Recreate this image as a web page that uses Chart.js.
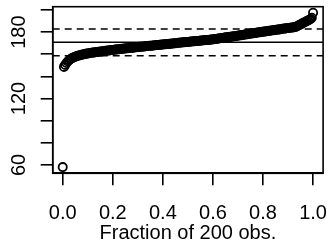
<!DOCTYPE html>
<html>
<head>
<meta charset="utf-8">
<script src="https://cdn.jsdelivr.net/npm/chart.js@4"></script>
<style>
  html, body { margin: 0; padding: 0; background: #fff; }
  #wrap { width: 329px; height: 242px; }
</style>
</head>
<body>
<div id="wrap"><canvas id="grafico" width="329" height="242"></canvas></div>
<script>
// valores ordenados (200 obs.)
const valores = [
  58.0, 148.6, 150.4, 152.1, 153.4, 154.6, 155.5, 156.2, 156.8, 157.3,
  157.8, 158.2, 158.6, 158.9, 159.2, 159.5, 159.8, 160.1, 160.3, 160.6,
  160.8, 161.0, 161.1, 161.3, 161.5, 161.6, 161.8, 162.0, 162.1, 162.3,
  162.5, 162.6, 162.8, 162.9, 163.1, 163.2, 163.4, 163.5, 163.7, 163.8,
  163.9, 164.1, 164.2, 164.3, 164.5, 164.6, 164.8, 164.9, 165.0, 165.2,
  165.3, 165.4, 165.5, 165.6, 165.8, 165.9, 166.0, 166.2, 166.3, 166.4,
  166.5, 166.7, 166.8, 166.9, 167.0, 167.1, 167.3, 167.4, 167.5, 167.6,
  167.7, 167.8, 168.0, 168.1, 168.2, 168.3, 168.4, 168.5, 168.7, 168.8,
  168.9, 169.0, 169.1, 169.2, 169.3, 169.4, 169.6, 169.7, 169.8, 169.9,
  170.0, 170.2, 170.4, 170.5, 170.6, 170.7, 170.8, 170.9, 171.0, 171.1,
  171.2, 171.4, 171.5, 171.6, 171.7, 171.8, 171.9, 172.0, 172.1, 172.2,
  172.4, 172.5, 172.6, 172.7, 172.8, 172.9, 173.0, 173.1, 173.3, 173.4,
  173.6, 173.8, 173.9, 174.1, 174.3, 174.4, 174.6, 174.8, 174.9, 175.1,
  175.3, 175.4, 175.6, 175.8, 175.9, 176.1, 176.3, 176.4, 176.6, 176.8,
  177.0, 177.1, 177.3, 177.5, 177.7, 177.8, 178.0, 178.2, 178.4, 178.5,
  178.7, 178.9, 179.1, 179.2, 179.4, 179.6, 179.8, 179.9, 180.1, 180.3,
  180.5, 180.6, 180.8, 181.0, 181.2, 181.3, 181.5, 181.7, 181.8, 182.0,
  182.2, 182.3, 182.5, 182.7, 182.8, 183.0, 183.2, 183.3, 183.5, 183.7,
  183.8, 184.0, 184.2, 184.3, 184.5, 184.7, 185.2, 185.8, 186.4, 187.0,
  187.6, 188.2, 188.8, 189.4, 190.0, 190.6, 191.2, 191.9, 193.0, 197.6
];

// linhas horizontais: média e média +/- desvio
const linhaMedia = 170.8;
const linhasDesvio = [158.6, 182.8];

// marcas dos eixos
const ticksX = [0, 0.2, 0.4, 0.6, 0.8, 1.0];
const ticksY = [60, 80, 100, 120, 140, 160, 180, 200];
const rotulosY = [60, 120, 180];

const limX = [-0.04, 1.04];
const limY = [52.4, 203.0];

const fonte = '"Liberation Sans", Arial, sans-serif';

// converte em pontos x = fração das observações
const n = valores.length;
const pontos = valores.map((v, i) => ({ x: i / (n - 1), y: v }));

function linhaH(y) {
  return [{ x: limX[0], y: y }, { x: limX[1], y: y }];
}

// desenha os rótulos do eixo y girados (como no R) e a moldura
const pluginEixoY = {
  id: 'eixoY',
  afterDraw(chart) {
    const ctx = chart.ctx;
    const escala = chart.scales.y;
    const area = chart.chartArea;
    ctx.save();
    ctx.fillStyle = '#000';
    ctx.font = '20px ' + fonte;
    ctx.textAlign = 'center';
    ctx.textBaseline = 'middle';
    rotulosY.forEach(v => {
      const py = escala.getPixelForValue(v);
      ctx.save();
      ctx.translate(19, py);
      ctx.rotate(-Math.PI / 2);
      ctx.fillText(String(v), 0, 0);
      ctx.restore();
    });
    ctx.strokeStyle = '#000';
    ctx.lineWidth = 1.6;
    ctx.strokeRect(area.left, area.top, area.right - area.left, area.bottom - area.top);
    ctx.restore();
  }
};

const grafico = new Chart(document.getElementById('grafico'), {
  type: 'scatter',
  data: {
    datasets: [
      {
        data: linhaH(linhaMedia),
        showLine: true,
        borderColor: '#000',
        borderWidth: 1.4,
        pointRadius: 0
      },
      {
        data: linhaH(linhasDesvio[0]),
        showLine: true,
        borderColor: '#000',
        borderWidth: 1.4,
        borderDash: [7, 5],
        pointRadius: 0
      },
      {
        data: linhaH(linhasDesvio[1]),
        showLine: true,
        borderColor: '#000',
        borderWidth: 1.4,
        borderDash: [7, 5],
        pointRadius: 0
      },
      {
        data: pontos,
        pointStyle: 'circle',
        pointRadius: 4.1,
        pointBorderWidth: 1.8,
        pointBorderColor: '#000',
        pointBackgroundColor: 'rgba(0,0,0,0)'
      }
    ]
  },
  options: {
    responsive: false,
    animation: false,
    layout: { padding: { top: 6.7, right: 5.7, left: 0, bottom: 0 } },
    plugins: {
      legend: { display: false },
      tooltip: { enabled: false }
    },
    scales: {
      x: {
        type: 'linear',
        min: limX[0],
        max: limX[1],
        afterBuildTicks: escala => { escala.ticks = ticksX.map(v => ({ value: v })); },
        afterFit: escala => {
          escala.height = 68.7;
          escala.paddingLeft = 0;
          escala.paddingRight = 0;
        },
        grid: {
          drawOnChartArea: false,
          drawTicks: true,
          tickLength: 12,
          color: '#000',
          lineWidth: 1.6
        },
        border: { display: true, color: '#000', width: 1.6 },
        ticks: {
          color: '#000',
          font: { family: fonte, size: 20 },
          padding: 16,
          maxRotation: 0,
          callback: v => Number(v).toFixed(1)
        },
        title: {
          display: true,
          text: 'Fraction of 200 obs.',
          color: '#000',
          font: { family: fonte, size: 20, lineHeight: 0.9 },
          padding: { top: 0, bottom: 0 }
        }
      },
      y: {
        type: 'linear',
        min: limY[0],
        max: limY[1],
        afterBuildTicks: escala => { escala.ticks = ticksY.map(v => ({ value: v })); },
        afterFit: escala => {
          escala.width = 52.7;
          escala.paddingTop = 0;
          escala.paddingBottom = 0;
        },
        grid: {
          drawOnChartArea: false,
          drawTicks: true,
          tickLength: 12,
          color: '#000',
          lineWidth: 1.6
        },
        border: { display: true, color: '#000', width: 1.6 },
        ticks: { display: false }
      }
    }
  },
  plugins: [pluginEixoY]
});
</script>
</body>
</html>
